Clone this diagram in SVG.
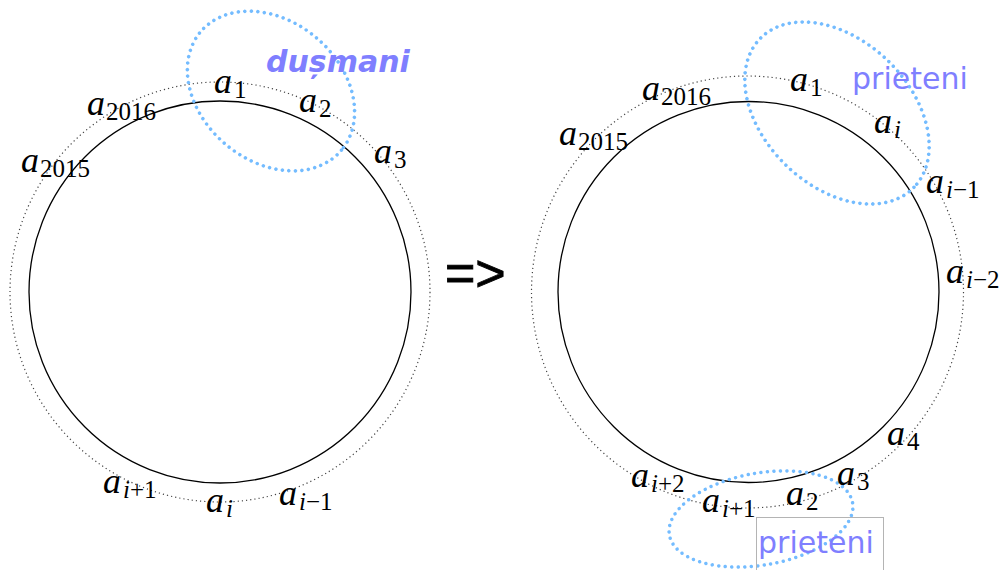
<svg xmlns="http://www.w3.org/2000/svg" width="1007" height="570" viewBox="0 0 1007 570">
<style>
.solid{fill:none;stroke:#000;stroke-width:1.3}
.dots{fill:none;stroke:#444;stroke-width:1.2;stroke-dasharray:1.2 3}
.blue{fill:none;stroke:#74bcff;stroke-width:3.5;stroke-dasharray:0 6.5;stroke-linecap:round}
.lbl{font-family:"Liberation Serif",serif;fill:#000}
.a{font-size:36px;font-style:italic}
.s{font-size:25px}
.it{font-style:italic}
.word{font-family:"DejaVu Sans",sans-serif;font-size:30px;fill:#7f7fff}
</style>
<rect width="1007" height="570" fill="#fff"/>
<g id="left-circle">
<circle class="dots" cx="220" cy="292" r="210"/>
<circle class="solid" cx="220" cy="292" r="191"/>
</g>
<g id="right-circle">
<circle class="dots" cx="747.5" cy="292" r="216"/>
<circle class="solid" cx="748.5" cy="292" r="190.5"/>
</g>
<g id="groups">
<ellipse class="blue" cx="271" cy="91" rx="92" ry="70" transform="rotate(40 271 91)"/>
<ellipse class="blue" cx="837" cy="113" rx="107" ry="73" transform="rotate(44 837 113)"/>
<ellipse class="blue" cx="761" cy="519" rx="93" ry="46" transform="rotate(-10 761 519)"/>
</g>
<g id="left-labels" class="lbl">
<text x="214" y="93"><tspan class="a">a</tspan><tspan class="s" dx="2" dy="5">1</tspan></text>
<text x="299" y="112"><tspan class="a">a</tspan><tspan class="s" dx="2" dy="5">2</tspan></text>
<text x="374" y="163"><tspan class="a">a</tspan><tspan class="s" dx="2" dy="5">3</tspan></text>
<text x="87" y="115"><tspan class="a">a</tspan><tspan class="s" dx="1" dy="5">2016</tspan></text>
<text x="21" y="172"><tspan class="a">a</tspan><tspan class="s" dx="1" dy="5">2015</tspan></text>
<text x="103" y="493"><tspan class="a">a</tspan><tspan class="s it" dx="2" dy="5">i</tspan><tspan class="s">+1</tspan></text>
<text x="206" y="512"><tspan class="a">a</tspan><tspan class="s it" dx="2" dy="5">i</tspan></text>
<text x="279" y="505"><tspan class="a">a</tspan><tspan class="s it" dx="2" dy="5">i</tspan><tspan class="s">−1</tspan></text>
</g>
<g id="right-labels" class="lbl">
<text x="790" y="91"><tspan class="a">a</tspan><tspan class="s" dx="2" dy="5">1</tspan></text>
<text x="874" y="133"><tspan class="a">a</tspan><tspan class="s it" dx="2" dy="5">i</tspan></text>
<text x="926" y="193"><tspan class="a">a</tspan><tspan class="s it" dx="2" dy="5">i</tspan><tspan class="s">−1</tspan></text>
<text x="946" y="283"><tspan class="a">a</tspan><tspan class="s it" dx="2" dy="5">i</tspan><tspan class="s">−2</tspan></text>
<text x="887" y="445"><tspan class="a">a</tspan><tspan class="s" dx="2" dy="5">4</tspan></text>
<text x="837" y="485"><tspan class="a">a</tspan><tspan class="s" dx="2" dy="5">3</tspan></text>
<text x="786" y="505"><tspan class="a">a</tspan><tspan class="s" dx="2" dy="5">2</tspan></text>
<text x="702" y="512"><tspan class="a">a</tspan><tspan class="s it" dx="2" dy="5">i</tspan><tspan class="s">+1</tspan></text>
<text x="631" y="487"><tspan class="a">a</tspan><tspan class="s it" dx="2" dy="5">i</tspan><tspan class="s">+2</tspan></text>
<text x="642" y="100"><tspan class="a">a</tspan><tspan class="s" dx="1" dy="5">2016</tspan></text>
<text x="559" y="145"><tspan class="a">a</tspan><tspan class="s" dx="1" dy="5">2015</tspan></text>
</g>
<g id="dusmani">
<text class="word" x="266" y="72" font-weight="bold" font-style="oblique">dușmani</text>
</g>
<g id="prieteni-top">
<text class="word" x="852" y="89">prieteni</text>
</g>
<g id="prieteni-bottom">
<rect x="756.5" y="517.5" width="127" height="60" fill="none" stroke="#b4b4b4" stroke-width="1"/>
<text class="word" x="758" y="553">prieteni</text>
</g>
<g id="arrow">
<text x="445" y="291" font-family="Liberation Sans, sans-serif" font-size="52" fill="#000" stroke="#000" stroke-width="0.9">=&gt;</text>
</g>
</svg>
